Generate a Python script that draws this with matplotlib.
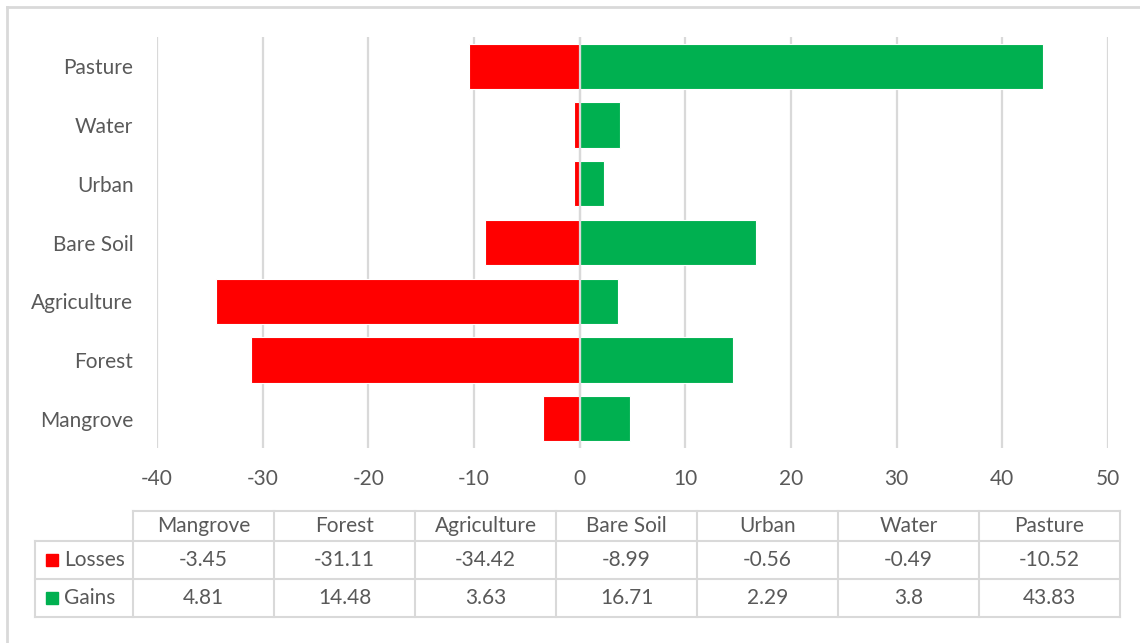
import matplotlib.pyplot as plt
from matplotlib.lines import Line2D
from matplotlib.patches import Rectangle

plt.rcParams['font.family'] = ['Lato', 'DejaVu Sans']
plt.rcParams['axes.unicode_minus'] = False

categories = ['Mangrove', 'Forest', 'Agriculture', 'Bare Soil', 'Urban', 'Water', 'Pasture']
losses = [-3.45, -31.11, -34.42, -8.99, -0.56, -0.49, -10.52]
gains = [4.81, 14.48, 3.63, 16.71, 2.29, 3.8, 43.83]
series_names = ['Losses', 'Gains']

red = '#ff0000'
green = '#00b050'
grid_col = '#d9d9d9'
text_col = '#595959'
fs = 15

W, H = 1140, 643
fig = plt.figure(figsize=(W / 100, H / 100), dpi=100)


def fx(px):
    return px / W


def fy(py):
    return 1 - py / H


ax = fig.add_axes([fx(157), fy(448), fx(1108) - fx(157), fy(37) - fy(448)])

y = range(len(categories))
ax.barh(y, losses, height=0.77, color=red, edgecolor='white', linewidth=0.8, zorder=2)
ax.barh(y, gains, height=0.77, color=green, edgecolor='white', linewidth=0.8, zorder=2)

ax.set_xlim(-40, 50)
ax.set_ylim(-0.5, len(categories) - 0.5)
ax.set_xticks(range(-40, 51, 10))
ax.set_yticks(list(y))
ax.set_yticklabels(categories)
ax.grid(axis='x', color=grid_col, linewidth=1.6, zorder=0)
ax.axvline(0, color=grid_col, linewidth=1.6, zorder=3)
ax.set_axisbelow(True)
for s in ax.spines.values():
    s.set_visible(False)
ax.tick_params(length=0, colors=text_col, labelsize=fs)
ax.tick_params(axis='x', pad=15)
ax.tick_params(axis='y', pad=17)

# data table below the axis
col_left, col_w = 133, 141
label_left = 35
rows = [511, 541, 579, 617]
line_kw = dict(color=grid_col, linewidth=1.5, transform=fig.transFigure)
n = len(categories)
right = col_left + n * col_w
fig.add_artist(Line2D([fx(col_left), fx(right)], [fy(rows[0])] * 2, **line_kw))
for r in rows[1:]:
    fig.add_artist(Line2D([fx(label_left), fx(right)], [fy(r)] * 2, **line_kw))
fig.add_artist(Line2D([fx(label_left)] * 2, [fy(rows[1]), fy(rows[3])], **line_kw))
for i in range(n + 1):
    xc = col_left + i * col_w
    fig.add_artist(Line2D([fx(xc)] * 2, [fy(rows[0]), fy(rows[3])], **line_kw))

tkw = dict(ha='center', va='center', color=text_col, fontsize=fs)
for i, cat in enumerate(categories):
    xc = col_left + (i + 0.5) * col_w
    fig.text(fx(xc), fy((rows[0] + rows[1]) / 2), cat, **tkw)
    fig.text(fx(xc), fy((rows[1] + rows[2]) / 2), '{:g}'.format(losses[i]), **tkw)
    fig.text(fx(xc), fy((rows[2] + rows[3]) / 2), '{:g}'.format(gains[i]), **tkw)

for j, (name, col) in enumerate(zip(series_names, [red, green])):
    yc = (rows[j + 1] + rows[j + 2]) / 2
    fig.add_artist(Rectangle((fx(46), fy(yc + 6)), fx(12), fy(0) - fy(12),
                             color=col, transform=fig.transFigure))
    fig.text(fx(64), fy(yc), name, ha='left', va='center', color=text_col, fontsize=fs)

# chart area border (top and left edges)
fig.add_artist(Line2D([fx(7), fx(W)], [fy(7)] * 2, color=grid_col, linewidth=2, transform=fig.transFigure))
fig.add_artist(Line2D([fx(7)] * 2, [fy(7), 0], color=grid_col, linewidth=2, transform=fig.transFigure))

fig.savefig('out.png', dpi=100)
